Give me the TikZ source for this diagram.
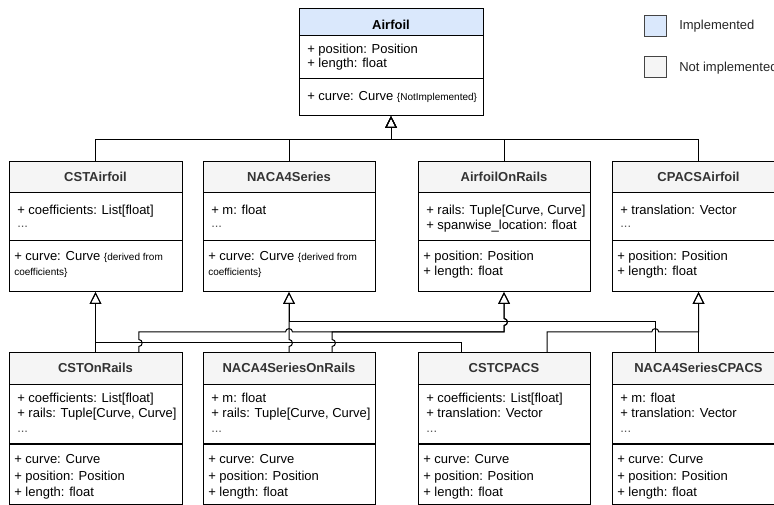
\documentclass[tikz,border=0pt]{standalone}
\usepackage{fontspec}
\setmainfont{Liberation Sans}
\usetikzlibrary{arrows.meta,calc}
\definecolor{implfill}{HTML}{DAE8FC}
\definecolor{notfill}{HTML}{F5F5F5}
\definecolor{titlegrey}{HTML}{333333}
\definecolor{legborder}{HTML}{444444}
\newcommand{\mainfs}{\fontsize{9.75}{11.7}\selectfont}
\newcommand{\smallfs}{\fontsize{7.5}{9}\selectfont}
% vertical jump (travelling upwards) at (x,y)
\newcommand{\vj}[2]{-- (#1,#2+3.5) .. controls (#1+4.5,#2+3.5) and (#1+4.5,#2-3.5) .. (#1,#2-3.5)}
% horizontal jump (travelling right) at (x,y)
\newcommand{\hj}[2]{-- (#1-3.5,#2) .. controls (#1-3.5,#2-4.5) and (#1+3.5,#2-4.5) .. (#1+3.5,#2)}
% class box: name, left, top, right, bottom, header bottom, divider, header fill
\newcommand{\umlbox}[8]{%
  \node[classnode, minimum width={(#4-#2)*0.75pt}, minimum height={(#5-#3)*0.75pt}] (#1) at ({(#2+#4)/2},{(#3+#5)/2}) {};
  \fill[#8] (#2,#3) rectangle (#4,#6);
  \draw[boxline] (#2,#6) -- (#4,#6) (#2,#7) -- (#4,#7) (#2,#3) rectangle (#4,#5);
}
\tikzset{
  classnode/.style={rectangle, draw=none, fill=white, inner sep=0pt, outer sep=0pt},
  boxline/.style={draw=black, line width=0.75pt},
  hdr/.style={font=\mainfs\bfseries, text=titlegrey, inner sep=0pt, anchor=base},
  attr/.style={font=\mainfs, text=black, inner sep=0pt, anchor=base west},
  dots/.style={font=\mainfs, text=black!65, inner sep=0pt, anchor=base west},
  small/.style={font=\smallfs, text=black, inner sep=0pt, anchor=base west},
  inh/.style={draw=black, line width=0.75pt, -{Triangle[open, length=9pt, width=8.8pt, line width=0.75pt]}},
  legbox/.style={rectangle, draw=legborder, line width=0.75pt, minimum width=16.5pt, minimum height=15.5pt, inner sep=0pt},
  legtxt/.style={font=\mainfs, text=black!85, inner sep=0pt, anchor=base west},
}
\begin{document}
\begin{tikzpicture}[x=0.75pt,y=-0.75pt]
\useasboundingbox (0,0) rectangle (774,505);
\clip (0,0) rectangle (774,505);
\fill[white] (0,0) rectangle (774,505);

% ---------- Airfoil ----------
\umlbox{airfoil}{299}{9}{483}{116}{36}{79}{implfill}
\node[hdr, text=black] (airfoil-t) at (391,30) {Airfoil};
\node[attr] (airfoil-a1) at (307,54) {+ position: Position};
\node[attr] (airfoil-a2) at (307,68) {+ length: float};
\node[attr] (airfoil-m1) at (307,101) {+ curve: Curve {\smallfs\{NotImplemented\}}};

% ---------- middle row ----------
\umlbox{cstair}{9}{162}{182}{292}{193}{241}{notfill}
\node[hdr] (cstair-t) at (95.5,182) {CSTAirfoil};
\node[attr] (cstair-a1) at (17,215) {+ coefficients: List[float]};
\node[dots] (cstair-a2) at (17,228) {...};
\node[attr] (cstair-m1) at (14,261) {+ curve: Curve {\smallfs\{derived from}};
\node[small] (cstair-m2) at (14,276) {coefficients\}};

\umlbox{naca}{203}{162}{375}{292}{193}{241}{notfill}
\node[hdr] (naca-t) at (289,182) {NACA4Series};
\node[attr] (naca-a1) at (211,215) {+ m: float};
\node[dots] (naca-a2) at (211,228) {...};
\node[attr] (naca-m1) at (208,261) {+ curve: Curve {\smallfs\{derived from}};
\node[small] (naca-m2) at (208,276) {coefficients\}};

\umlbox{aor}{418}{162}{590}{292}{193}{241}{notfill}
\node[hdr] (aor-t) at (504,182) {AirfoilOnRails};
\node[attr] (aor-a1) at (426,215) {+ rails: Tuple[Curve, Curve]};
\node[attr] (aor-a2) at (426,229.5) {+ spanwise\_location: float};
\node[attr] (aor-m1) at (423,261) {+ position: Position};
\node[attr] (aor-m2) at (423,276) {+ length: float};

\umlbox{cpacs}{612}{162}{785}{292}{193}{241}{notfill}
\node[hdr] (cpacs-t) at (698.5,182) {CPACSAirfoil};
\node[attr] (cpacs-a1) at (620,215) {+ translation: Vector};
\node[dots] (cpacs-a2) at (620,228) {...};
\node[attr] (cpacs-m1) at (617,261) {+ position: Position};
\node[attr] (cpacs-m2) at (617,276) {+ length: float};

% ---------- bottom row ----------
\umlbox{cstor}{9}{353}{182}{504}{385}{444}{notfill}
\node[hdr] (cstor-t) at (95.5,373) {CSTOnRails};
\node[attr] (cstor-a1) at (17,403) {+ coefficients: List[float]};
\node[attr] (cstor-a2) at (17,418) {+ rails: Tuple[Curve, Curve]};
\node[dots] (cstor-a3) at (17,432) {...};
\node[attr] (cstor-m1) at (14,464) {+ curve: Curve};
\node[attr] (cstor-m2) at (14,480) {+ position: Position};
\node[attr] (cstor-m3) at (14,496) {+ length: float};

\umlbox{nacaor}{203}{353}{375}{504}{385}{444}{notfill}
\node[hdr] (nacaor-t) at (289,373) {NACA4SeriesOnRails};
\node[attr] (nacaor-a1) at (211,403) {+ m: float};
\node[attr] (nacaor-a2) at (211,418) {+ rails: Tuple[Curve, Curve]};
\node[dots] (nacaor-a3) at (211,432) {...};
\node[attr] (nacaor-m1) at (208,464) {+ curve: Curve};
\node[attr] (nacaor-m2) at (208,480) {+ position: Position};
\node[attr] (nacaor-m3) at (208,496) {+ length: float};

\umlbox{cstcpacs}{418}{353}{590}{504}{385}{444}{notfill}
\node[hdr] (cstcpacs-t) at (504,373) {CSTCPACS};
\node[attr] (cstcpacs-a1) at (426,403) {+ coefficients: List[float]};
\node[attr] (cstcpacs-a2) at (426,418) {+ translation: Vector};
\node[dots] (cstcpacs-a3) at (426,432) {...};
\node[attr] (cstcpacs-m1) at (423,464) {+ curve: Curve};
\node[attr] (cstcpacs-m2) at (423,480) {+ position: Position};
\node[attr] (cstcpacs-m3) at (423,496) {+ length: float};

\umlbox{nacacpacs}{612}{353}{785}{504}{385}{444}{notfill}
\node[hdr] (nacacpacs-t) at (698.5,373) {NACA4SeriesCPACS};
\node[attr] (nacacpacs-a1) at (620,403) {+ m: float};
\node[attr] (nacacpacs-a2) at (620,418) {+ translation: Vector};
\node[dots] (nacacpacs-a3) at (620,432) {...};
\node[attr] (nacacpacs-m1) at (617,464) {+ curve: Curve};
\node[attr] (nacacpacs-m2) at (617,480) {+ position: Position};
\node[attr] (nacacpacs-m3) at (617,496) {+ length: float};

% ---------- legend ----------
\node[legbox, fill=implfill] (leg-impl) at (655,26) {};
\node[legtxt] (leg-impl-t) at (679,30) {Implemented};
\node[legbox, fill=notfill] (leg-not) at (655,67) {};
\node[legtxt] (leg-not-t) at (679,71.5) {Not implemented};

% ---------- connectors ----------
\coordinate (rowtop) at (0,140);
\coordinate (rowa) at (0,322);
\coordinate (rowb) at (0,332);
\coordinate (rowc) at (0,343);

\draw[inh] (cstair.north) |- (airfoil.south |- rowtop) -- (airfoil.south);
\draw[inh] (naca.north) |- (airfoil.south |- rowtop) -- (airfoil.south);
\draw[inh] (aor.north) |- (airfoil.south |- rowtop) -- (airfoil.south);
\draw[inh] (cpacs.north) |- (airfoil.south |- rowtop) -- (airfoil.south);

\draw[inh] (cstor.north) -- (cstair.south);
\draw[inh] ($(cstcpacs.north)+(-43,0)$) |- (cstair.south |- rowc) -- (cstair.south);
\draw[inh] ($(nacacpacs.north)+(-43.25,0)$) |- (naca.south |- rowa) -- (naca.south);
\draw[inh] (nacaor.north) \vj{289}{343} -- (naca.south);
\draw[inh] ($(cstor.north)+(43.25,0)$) \vj{138.75}{343} -- (138.75,332) \hj{289}{332} -- (504,332) \vj{504}{322} -- (aor.south);
\draw[inh] ($(nacaor.north)+(43,0)$) \vj{332}{343} -- (332,332) -- (504,332) \vj{504}{322} -- (aor.south);
\draw[inh] ($(cstcpacs.north)+(43,0)$) -- (547,332) \hj{655.25}{332} -- (698.5,332) -- (cpacs.south);
\draw[inh] (nacacpacs.north) -- (cpacs.south);
\end{tikzpicture}
\end{document}
